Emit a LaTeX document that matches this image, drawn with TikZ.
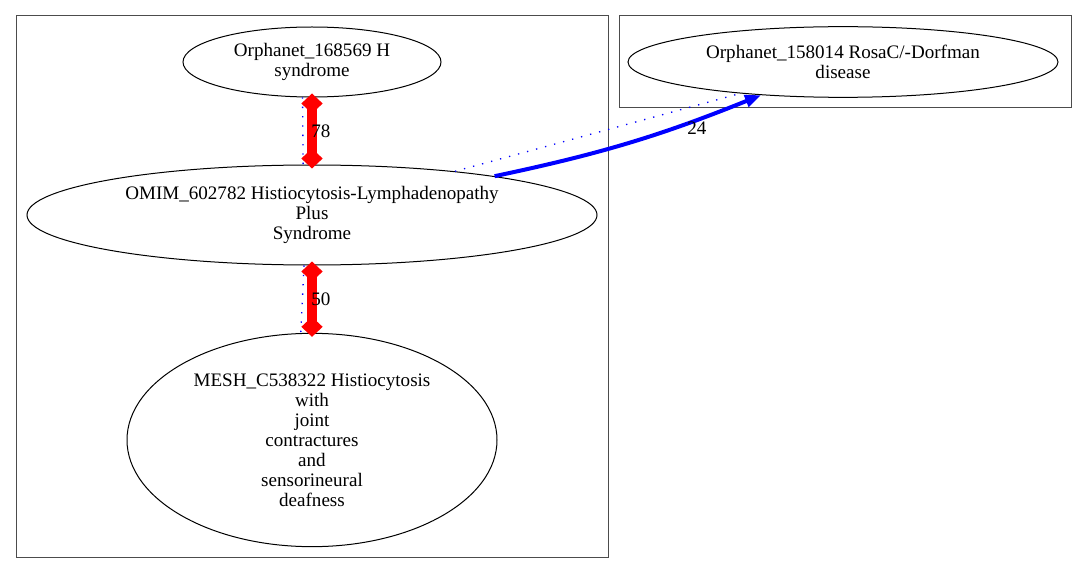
\documentclass[tikz,border=0pt]{standalone}
\usepackage{fontspec}
\setmainfont{Liberation Serif}
\usepackage{tikz}
\usetikzlibrary{
	shapes,
	arrows.meta, % for nice-looking arrows
	}

\begin{document}
\begin{tikzpicture}[x=0.75pt,y=-0.75pt,
    disease/.style={draw=black,ellipse,inner sep=0pt,align=center,
        line width=0.75pt,font=\fontsize{14.3}{15}\selectfont},
    edgelabel/.style={inner sep=0pt,font=\fontsize{14.3}{15}\selectfont},
    redlink/.style={red,line width=7pt,
        {Diamond[length=15pt,width=16pt]}-{Diamond[length=15pt,width=16pt]},
        shorten <=-3pt,shorten >=-3pt},
    bluedots/.style={blue,line width=1pt,dash pattern=on 1pt off 6pt},
    bluelink/.style={blue,line width=3pt,-{Triangle[length=12pt,width=9pt]}}]

            \useasboundingbox (0,0) rectangle (1085,574);

            % Coordinates
            \coordinate(PA) at (312,62);
            \coordinate(PB) at (312,215);
            \coordinate(PC) at (312,440);
            \coordinate(PD) at (843,62);

            % Clusters
            \draw[black!70,line width=0.75pt] (16,16) rectangle (608,557);
            \draw[black!70,line width=0.75pt] (619,16) rectangle (1071,108);

            % Diseases (sizes in pt: px times 0.75)
            \node[disease,minimum width=193.5pt,minimum height=52.5pt] (A) at (PA)
                {Orphanet\_168569 H\\syndrome};
            \node[disease,minimum width=427.5pt,minimum height=75pt] (B) at (PB)
                {OMIM\_602782 Histiocytosis-Lymphadenopathy\\Plus\\Syndrome};
            \node[disease,minimum width=277.5pt,minimum height=160pt] (C) at (PC)
                {MESH\_C538322 Histiocytosis\\with\\joint\\contractures\\and\\sensorineural\\deafness};
            \node[disease,minimum width=322.5pt,minimum height=53pt] (D) at (PD)
                {Orphanet\_158014 RosaC/-Dorfman\\disease};

            % Links
            \draw[bluedots] (A.255) -- (B.100);
            \draw[redlink] (A.south) -- (B.north)
                node[midway,anchor=west,xshift=-4,edgelabel,black]{78};
            \draw[bluedots] (B.261) -- (C.96);
            \draw[redlink] (B.south) -- (C.north)
                node[midway,anchor=west,xshift=-4,edgelabel,black]{50};
            \draw[bluedots] (B.17) -- (D.197);
            \draw[bluelink] (B.12) to[bend right=5]
                node[pos=0.77,below,inner sep=3pt,edgelabel,black]{24} (D.202);

        \end{tikzpicture}
\end{document}
